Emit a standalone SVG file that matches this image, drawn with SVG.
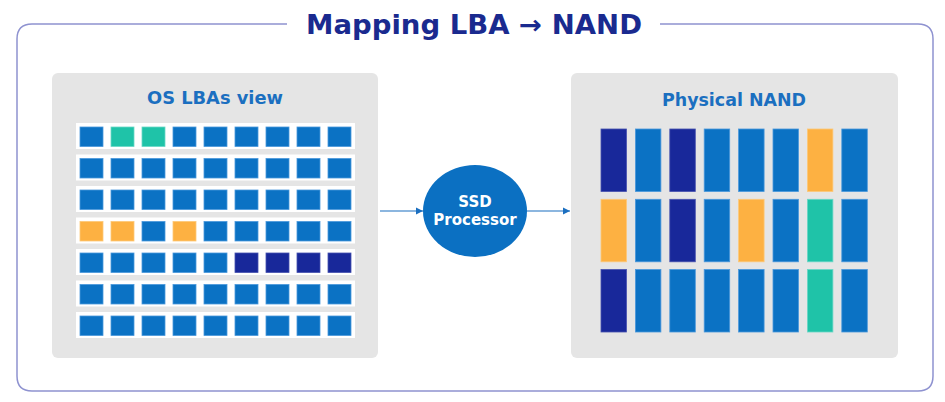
<svg xmlns="http://www.w3.org/2000/svg" width="945" height="402" viewBox="0 0 945 402">
<defs>
<style>
.t{font-family:"DejaVu Sans","Liberation Sans",sans-serif;font-weight:bold;text-anchor:middle}
.panel{fill:#e5e5e5}
.strip{fill:#ffffff}
.b{fill:#0b72c4;stroke:#4a98dc;stroke-width:0.8}
.n{fill:#18289a;stroke:#4652b0;stroke-width:0.8}
.g{fill:#1fc3a8;stroke:#6ad8c6;stroke-width:0.8}
.o{fill:#fdb142;stroke:#fdc878;stroke-width:0.8}
.conn{stroke:#1b6fc0;stroke-width:1.2;fill:none}
</style>
<marker id="ah" markerWidth="8" markerHeight="8" refX="7" refY="4" orient="auto" markerUnits="userSpaceOnUse">
<path d="M0,0.5 L7,4 L0,7.5 Z" fill="#1b6fc0"/>
</marker>
</defs>
<rect width="945" height="402" fill="#ffffff"/>
<g id="frame">
<path d="M287,24 H32 Q17,24 17,39 V376 Q17,391 32,391 H918 Q933,391 933,376 V39 Q933,24 918,24 H660" fill="none" stroke="#8e92d0" stroke-width="1.5"/>
<text class="t" x="474" y="33.5" font-size="26" fill="#1a2a8f" textLength="336" lengthAdjust="spacingAndGlyphs">Mapping LBA → NAND</text>
</g>
<g id="lba-view">
<rect class="panel" x="52" y="73" width="326" height="285" rx="6"/>
<text class="t" x="215" y="104" font-size="17" fill="#1b6fc0" textLength="136" lengthAdjust="spacingAndGlyphs">OS LBAs view</text>
<g id="lba-row1">
<rect class="strip" x="76" y="123" width="279" height="26"/>
<rect class="b" x="80" y="127" width="23" height="19.5"/><rect class="g" x="111" y="127" width="23" height="19.5"/><rect class="g" x="142" y="127" width="23" height="19.5"/><rect class="b" x="173" y="127" width="23" height="19.5"/><rect class="b" x="204" y="127" width="23" height="19.5"/><rect class="b" x="235" y="127" width="23" height="19.5"/><rect class="b" x="266" y="127" width="23" height="19.5"/><rect class="b" x="297" y="127" width="23" height="19.5"/><rect class="b" x="328" y="127" width="23" height="19.5"/>
</g>
<g id="lba-row2">
<rect class="strip" x="76" y="154.5" width="279" height="26"/>
<rect class="b" x="80" y="158.5" width="23" height="19.5"/><rect class="b" x="111" y="158.5" width="23" height="19.5"/><rect class="b" x="142" y="158.5" width="23" height="19.5"/><rect class="b" x="173" y="158.5" width="23" height="19.5"/><rect class="b" x="204" y="158.5" width="23" height="19.5"/><rect class="b" x="235" y="158.5" width="23" height="19.5"/><rect class="b" x="266" y="158.5" width="23" height="19.5"/><rect class="b" x="297" y="158.5" width="23" height="19.5"/><rect class="b" x="328" y="158.5" width="23" height="19.5"/>
</g>
<g id="lba-row3">
<rect class="strip" x="76" y="186" width="279" height="26"/>
<rect class="b" x="80" y="190" width="23" height="19.5"/><rect class="b" x="111" y="190" width="23" height="19.5"/><rect class="b" x="142" y="190" width="23" height="19.5"/><rect class="b" x="173" y="190" width="23" height="19.5"/><rect class="b" x="204" y="190" width="23" height="19.5"/><rect class="b" x="235" y="190" width="23" height="19.5"/><rect class="b" x="266" y="190" width="23" height="19.5"/><rect class="b" x="297" y="190" width="23" height="19.5"/><rect class="b" x="328" y="190" width="23" height="19.5"/>
</g>
<g id="lba-row4">
<rect class="strip" x="76" y="217.5" width="279" height="26"/>
<rect class="o" x="80" y="221.5" width="23" height="19.5"/><rect class="o" x="111" y="221.5" width="23" height="19.5"/><rect class="b" x="142" y="221.5" width="23" height="19.5"/><rect class="o" x="173" y="221.5" width="23" height="19.5"/><rect class="b" x="204" y="221.5" width="23" height="19.5"/><rect class="b" x="235" y="221.5" width="23" height="19.5"/><rect class="b" x="266" y="221.5" width="23" height="19.5"/><rect class="b" x="297" y="221.5" width="23" height="19.5"/><rect class="b" x="328" y="221.5" width="23" height="19.5"/>
</g>
<g id="lba-row5">
<rect class="strip" x="76" y="249" width="279" height="26"/>
<rect class="b" x="80" y="253" width="23" height="19.5"/><rect class="b" x="111" y="253" width="23" height="19.5"/><rect class="b" x="142" y="253" width="23" height="19.5"/><rect class="b" x="173" y="253" width="23" height="19.5"/><rect class="b" x="204" y="253" width="23" height="19.5"/><rect class="n" x="235" y="253" width="23" height="19.5"/><rect class="n" x="266" y="253" width="23" height="19.5"/><rect class="n" x="297" y="253" width="23" height="19.5"/><rect class="n" x="328" y="253" width="23" height="19.5"/>
</g>
<g id="lba-row6">
<rect class="strip" x="76" y="280.5" width="279" height="26"/>
<rect class="b" x="80" y="284.5" width="23" height="19.5"/><rect class="b" x="111" y="284.5" width="23" height="19.5"/><rect class="b" x="142" y="284.5" width="23" height="19.5"/><rect class="b" x="173" y="284.5" width="23" height="19.5"/><rect class="b" x="204" y="284.5" width="23" height="19.5"/><rect class="b" x="235" y="284.5" width="23" height="19.5"/><rect class="b" x="266" y="284.5" width="23" height="19.5"/><rect class="b" x="297" y="284.5" width="23" height="19.5"/><rect class="b" x="328" y="284.5" width="23" height="19.5"/>
</g>
<g id="lba-row7">
<rect class="strip" x="76" y="312" width="279" height="26"/>
<rect class="b" x="80" y="316" width="23" height="19.5"/><rect class="b" x="111" y="316" width="23" height="19.5"/><rect class="b" x="142" y="316" width="23" height="19.5"/><rect class="b" x="173" y="316" width="23" height="19.5"/><rect class="b" x="204" y="316" width="23" height="19.5"/><rect class="b" x="235" y="316" width="23" height="19.5"/><rect class="b" x="266" y="316" width="23" height="19.5"/><rect class="b" x="297" y="316" width="23" height="19.5"/><rect class="b" x="328" y="316" width="23" height="19.5"/>
</g>
</g>
<g id="ssd-processor">
<ellipse cx="475" cy="211" rx="52" ry="46" fill="#0b70c2"/>
<text class="t" x="475" y="207" font-size="15" fill="#ffffff">SSD</text>
<text class="t" x="475" y="225" font-size="15" fill="#ffffff">Processor</text>
</g>
<g id="physical-nand">
<rect class="panel" x="571" y="73" width="327" height="285" rx="6"/>
<text class="t" x="734" y="106" font-size="17" fill="#1b6fc0" textLength="144" lengthAdjust="spacingAndGlyphs">Physical NAND</text>
<g id="nand-row1">
<rect class="n" x="601" y="129" width="25.5" height="62.5"/><rect class="b" x="635.4" y="129" width="25.5" height="62.5"/><rect class="n" x="669.8" y="129" width="25.5" height="62.5"/><rect class="b" x="704.2" y="129" width="25.5" height="62.5"/><rect class="b" x="738.6" y="129" width="25.5" height="62.5"/><rect class="b" x="773" y="129" width="25.5" height="62.5"/><rect class="o" x="807.4" y="129" width="25.5" height="62.5"/><rect class="b" x="841.8" y="129" width="25.5" height="62.5"/>
</g>
<g id="nand-row2">
<rect class="o" x="601" y="199.3" width="25.5" height="62.5"/><rect class="b" x="635.4" y="199.3" width="25.5" height="62.5"/><rect class="n" x="669.8" y="199.3" width="25.5" height="62.5"/><rect class="b" x="704.2" y="199.3" width="25.5" height="62.5"/><rect class="o" x="738.6" y="199.3" width="25.5" height="62.5"/><rect class="b" x="773" y="199.3" width="25.5" height="62.5"/><rect class="g" x="807.4" y="199.3" width="25.5" height="62.5"/><rect class="b" x="841.8" y="199.3" width="25.5" height="62.5"/>
</g>
<g id="nand-row3">
<rect class="n" x="601" y="269.5" width="25.5" height="62.5"/><rect class="b" x="635.4" y="269.5" width="25.5" height="62.5"/><rect class="b" x="669.8" y="269.5" width="25.5" height="62.5"/><rect class="b" x="704.2" y="269.5" width="25.5" height="62.5"/><rect class="b" x="738.6" y="269.5" width="25.5" height="62.5"/><rect class="b" x="773" y="269.5" width="25.5" height="62.5"/><rect class="g" x="807.4" y="269.5" width="25.5" height="62.5"/><rect class="b" x="841.8" y="269.5" width="25.5" height="62.5"/>
</g>
</g>
<g id="connectors">
<line class="conn" x1="380" y1="211" x2="423" y2="211" marker-end="url(#ah)"/>
<line class="conn" x1="527" y1="211" x2="570" y2="211" marker-end="url(#ah)"/>
</g>
</svg>
